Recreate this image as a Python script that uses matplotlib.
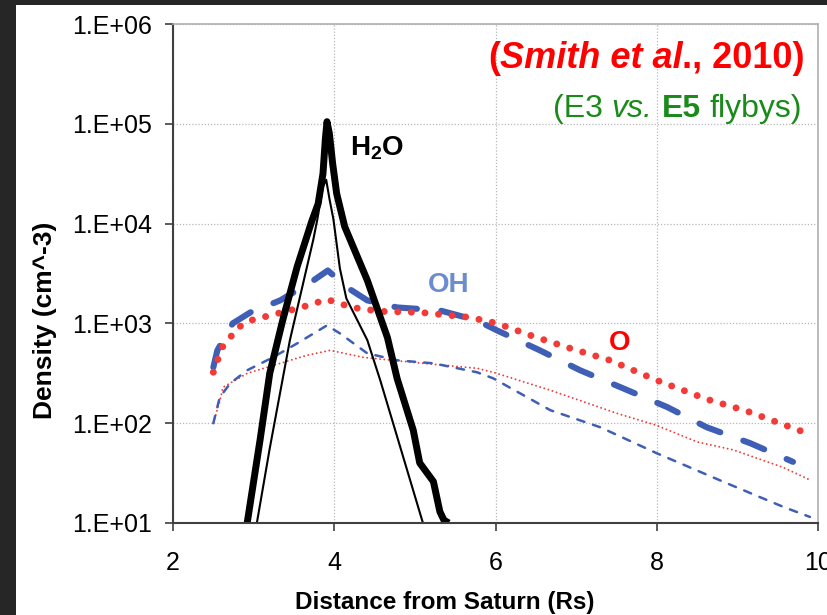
import matplotlib
matplotlib.use('Agg')
import matplotlib.pyplot as plt
from matplotlib.patches import Rectangle
from matplotlib.ticker import NullLocator

# distances (Rs) and densities (cm^-3)
h2o_e5_x = [2.92, 3.08, 3.20, 3.36, 3.54, 3.72, 3.80, 3.86, 3.89, 3.91, 3.94, 3.98,
            4.03, 4.13, 4.41, 4.66, 4.78, 4.98, 5.06, 5.23, 5.31, 5.36, 5.42]
h2o_e5_y = [10, 68, 316, 1070, 3700, 10500, 15800, 31600, 70800, 105000, 79400, 40000,
            20000, 9300, 2700, 720, 280, 85, 40, 26, 13, 10.7, 10]

h2o_e3_x = [3.04, 3.20, 3.45, 3.74, 3.79, 3.86, 3.90, 3.94, 3.99, 4.07, 4.15, 4.41,
            4.57, 4.73, 5.10]
h2o_e3_y = [10, 56, 680, 6900, 11000, 23400, 27500, 17800, 11000, 3550, 1780, 680,
            270, 100, 10]

oh_e5_x = [2.50, 2.55, 2.62, 2.74, 2.96, 3.33, 3.74, 3.92, 4.16, 4.41, 4.78, 5.31,
           5.77, 6.02, 6.55, 7.05, 7.58, 8.13, 8.62, 9.16, 9.69]
oh_e5_y = [363, 537, 676, 1000, 1290, 1700, 2690, 3390, 2290, 1700, 1445, 1350,
           1070, 850, 537, 339, 224, 145, 91, 63, 41]

o_e5_x = [2.50, 2.61, 2.71, 2.81, 2.96, 3.30, 3.59, 3.91, 4.22, 4.57, 5.06, 5.68,
          6.02, 6.47, 6.93, 7.42, 8.00, 8.62, 9.12, 9.87]
o_e5_y = [324, 575, 724, 912, 1070, 1260, 1445, 1740, 1445, 1320, 1290, 1150,
          1000, 741, 562, 427, 269, 174, 132, 79]

oh_e3_x = [2.50, 2.58, 2.71, 2.92, 3.24, 3.54, 3.91, 4.07, 4.41, 4.78, 5.23, 5.77,
           5.97, 6.68, 7.30, 8.00, 8.87, 9.57, 9.90]
oh_e3_y = [100, 182, 251, 339, 457, 631, 955, 794, 501, 427, 398, 324,
           282, 135, 91, 50, 25, 14.5, 11.5]

o_e3_x = [2.50, 2.58, 2.62, 2.92, 3.33, 3.66, 3.95, 4.36, 4.98, 5.77, 5.97, 6.68,
          7.50, 8.00, 8.50, 8.95, 9.57, 9.90]
o_e3_y = [100, 166, 229, 316, 398, 479, 537, 457, 407, 355, 324, 214,
          126, 95, 65, 54, 36, 27]

yticks = [1e1, 1e2, 1e3, 1e4, 1e5, 1e6]
ytick_labels = ['1.E+01', '1.E+02', '1.E+03', '1.E+04', '1.E+05', '1.E+06']
xticks = [2, 4, 6, 8, 10]

BLUE = '#3f5fb6'
RED = '#f23a36'

plt.rcParams['font.family'] = ['Liberation Sans', 'DejaVu Sans']
plt.rcParams['mathtext.fontset'] = 'custom'
plt.rcParams['mathtext.rm'] = 'Liberation Sans'
plt.rcParams['mathtext.bf'] = 'Liberation Sans:bold'

W, H = 827, 615
fig = plt.figure(figsize=(W / 100, H / 100), dpi=100, facecolor='#262626')
fig.patches.append(Rectangle((16 / W, 0), 1, 1 - 5 / H, transform=fig.transFigure,
                             facecolor='white', edgecolor='none', zorder=-1))
ax = fig.add_axes([173 / W, 1 - 523 / H, (818 - 173) / W, (523 - 24) / H])

ax.plot(o_e3_x, o_e3_y, color=RED, lw=1.4, linestyle=(0, (0.01, 2.2)),
        dash_capstyle='round')
ax.plot(oh_e3_x, oh_e3_y, color=BLUE, lw=1.8, linestyle=(0, (3, 3.6)),
        dash_capstyle='round')
ax.plot(oh_e5_x, oh_e5_y, color=BLUE, lw=4.4, linestyle=(0, (3.7, 4.0)),
        dash_capstyle='round')
ax.plot(o_e5_x, o_e5_y, color=RED, lw=5, linestyle=(0, (0.01, 1.95)),
        dash_capstyle='round')
ax.plot(h2o_e3_x, h2o_e3_y, color='black', lw=1.5, solid_joinstyle='round')
ax.plot(h2o_e5_x, h2o_e5_y, color='black', lw=5, solid_joinstyle='round',
        solid_capstyle='butt')

ax.set_yscale('log')
ax.set_xlim(2, 10)
ax.set_ylim(1e1, 1e6)
ax.set_xticks(xticks)
ax.set_yticks(yticks)
ax.set_yticklabels(ytick_labels)
ax.yaxis.set_minor_locator(NullLocator())
ax.tick_params(axis='y', direction='out', length=6, width=1.2, pad=9,
               labelsize=18, color='#404040')
ax.tick_params(axis='x', direction='out', length=6, width=1.2, pad=14,
               labelsize=18, color='#404040')
ax.grid(True, color='#b8b8b8', linestyle=(0, (1, 1.5)), linewidth=0.9)
for side in ['left', 'bottom']:
    ax.spines[side].set_color('#404040')
    ax.spines[side].set_linewidth(1.5)
for side in ['top', 'right']:
    ax.spines[side].set_color('#b0b0b0')
    ax.spines[side].set_linewidth(1.2)

ax.text(4.2, 4.9e4, r'H$_\mathbf{2}$O', fontsize=20, fontweight='bold',
        color='black', va='baseline')
ax.text(5.16, 2050, 'OH', fontsize=20, fontweight='bold', color='#6a8cd0',
        va='baseline')
ax.text(7.41, 537, 'O', fontsize=20, fontweight='bold', color='#ff0000',
        va='baseline')

fig.text(445 / W, 1 - 603 / H, 'Distance from Saturn (Rs)', fontsize=17.5,
         fontweight='bold', ha='center', va='center')
fig.text(45 / W, 1 - 320 / H, 'Density (cm^-3)', fontsize=19, fontweight='bold',
         rotation=90, ha='center', va='center')


def rich_right(x_right, y_base, pieces, size, color):
    # lay out styled pieces right to left, ending at x_right (pixels)
    r = fig.canvas.get_renderer()
    x = x_right
    for text, weight, style, space in reversed(pieces):
        t = fig.text(x / W, 1 - y_base / H, text, ha='right', va='baseline',
                     fontsize=size, fontweight=weight, fontstyle=style, color=color)
        bb = t.get_window_extent(r)
        x = bb.x0 - space * 0.278 * size * 100 / 72


rich_right(805, 68, [('(', 'bold', 'normal', 0),
                     ('Smith et al', 'bold', 'italic', 0),
                     ('., 2010)', 'bold', 'normal', 0)], 26, '#ff0000')
rich_right(802, 117, [('(E3', 'normal', 'normal', 0),
                      ('vs.', 'normal', 'italic', 1),
                      ('E5', 'bold', 'normal', 1),
                      ('flybys)', 'normal', 'normal', 1)], 23, '#1a8a1a')

fig.savefig('out.png', dpi=100)
